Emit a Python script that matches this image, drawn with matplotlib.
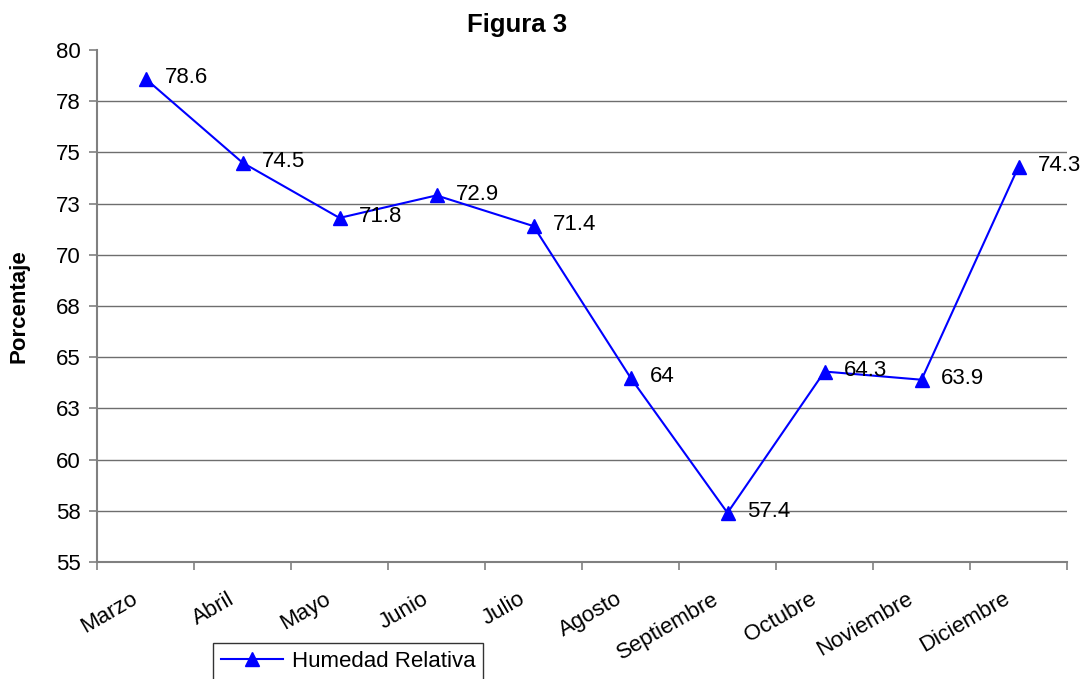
import matplotlib
matplotlib.use("Agg")
import matplotlib.pyplot as plt
from matplotlib.transforms import ScaledTranslation

plt.rcParams['font.family'] = ['Liberation Sans', 'DejaVu Sans']

months = ["Marzo", "Abril", "Mayo", "Junio", "Julio", "Agosto",
          "Septiembre", "Octubre", "Noviembre", "Diciembre"]
humidity = [78.6, 74.5, 71.8, 72.9, 71.4, 64, 57.4, 64.3, 63.9, 74.3]
y_ticks = [55, 57.5, 60, 62.5, 65, 67.5, 70, 72.5, 75, 77.5, 80]
y_tick_labels = ["55", "58", "60", "63", "65", "68", "70", "73", "75", "78", "80"]
value_labels = ["78.6", "74.5", "71.8", "72.9", "71.4", "64", "57.4", "64.3", "63.9", "74.3"]

fig = plt.figure(figsize=(10.88, 6.79), dpi=100)
ax = fig.add_axes([97 / 1088, 1 - 562 / 679, 970 / 1088, 512 / 679])

x = list(range(len(months)))
line, = ax.plot(x, humidity, color="#0000FF", lw=1.5, marker="^",
                markersize=10, label="Humedad Relativa", zorder=3, clip_on=False)

for xi, yi, lab in zip(x, humidity, value_labels):
    ax.annotate(lab, (xi, yi), xytext=(14, 1), textcoords="offset points",
                ha="left", va="center", fontsize=16, color="black")

ax.set_xlim(-0.5, len(months) - 0.5)
ax.set_ylim(55, 80)

ax.set_yticks(y_ticks)
ax.set_yticklabels(y_tick_labels, fontsize=16)
for yt in y_ticks[1:-1]:
    ax.axhline(yt, color="#6e6e6e", lw=1.0, zorder=1)

# category boundaries carry the tick marks, centres carry the names
ax.set_xticks([i + 0.5 for i in range(-1, len(months))], minor=False)
ax.set_xticklabels([])
ax.set_xticks(x, minor=True)
ax.set_xticklabels(months, minor=True, rotation=30, ha="right",
                   rotation_mode="anchor", fontsize=16)
ax.tick_params(axis="x", which="minor", length=0, pad=14)
ax.tick_params(axis="x", which="major", length=6, color="#808080", width=1.2)
ax.tick_params(axis="y", length=6, color="#808080", width=1.2, pad=6)
shift = ScaledTranslation(-11 / 72, -5 / 72, fig.dpi_scale_trans)
for lbl in ax.get_xticklabels(minor=True):
    lbl.set_transform(lbl.get_transform() + shift)

for s in ["top", "right"]:
    ax.spines[s].set_visible(False)
for s in ["left", "bottom"]:
    ax.spines[s].set_color("#808080")
    ax.spines[s].set_linewidth(1.5)

ax.set_ylabel("Porcentaje", fontsize=16, fontweight="bold")
ax.yaxis.set_label_coords(-0.070, 0.5)

fig.text(517 / 1088, 1 - 25 / 679, "Figura 3", ha="center", va="center",
         fontsize=18.5, fontweight="bold")

leg = fig.legend(handles=[line], loc="upper left",
                 bbox_to_anchor=(213 / 1088, 1 - 643 / 679),
                 fontsize=16, frameon=True, fancybox=False, handlelength=2.8,
                 borderpad=0.35, handletextpad=0.4, borderaxespad=0)
leg.get_frame().set_edgecolor("black")
leg.get_frame().set_linewidth(1.0)

fig.savefig("out.png", dpi=100)
